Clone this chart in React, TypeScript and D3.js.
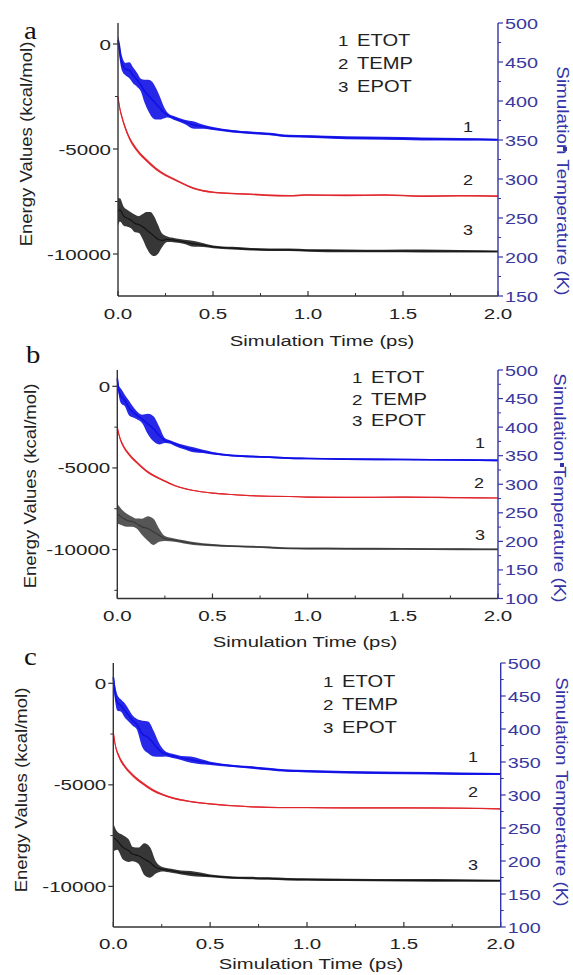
import React from "react";
import * as d3 from "d3";

const FONT = "'Liberation Sans', Arial, Helvetica, sans-serif";
const SERIF = "'Liberation Serif', 'Times New Roman', serif";

// ---------- shared tick / label data ----------
const timeTicks = [0, 0.5, 1.0, 1.5, 2.0];
const timeTickLabels = ["0.0", "0.5", "1.0", "1.5", "2.0"];
const timeMinor = [0.25, 0.75, 1.25, 1.75];
const energyTicks = [0, -5000, -10000];
const legendNums = ["1", "2", "3"];
const legendNames = ["ETOT", "TEMP", "EPOT"];
const tempTicksA = [150, 200, 250, 300, 350, 400, 450, 500];
const tempTicksBC = [100, 150, 200, 250, 300, 350, 400, 450, 500];

// ---------- panel a ----------
const tEtotA = [0, 0.01, 0.02, 0.04, 0.06, 0.08, 0.1, 0.12, 0.14, 0.16, 0.18, 0.2, 0.22, 0.24, 0.26, 0.3, 0.35, 0.4, 0.45, 0.5, 0.6, 0.7, 0.8, 0.9, 1.0, 1.2, 1.4, 1.6, 1.8, 2.0];
const etotA = [200, -400, -900, -1200, -1250, -1500, -1700, -1950, -2250, -2450, -2650, -2850, -3050, -3250, -3380, -3545, -3705, -3860, -3940, -4020, -4150, -4225, -4290, -4385, -4400, -4465, -4490, -4520, -4540, -4560];
const etotBandA = [200, 400, 350, 300, 380, 380, 330, 300, 550, 750, 850, 750, 550, 300, 120, 90, 100, 170, 90, 70, 60, 60, 60, 60, 60, 70, 70, 70, 60, 50];

const tTempA = [0, 0.01, 0.02, 0.05, 0.1, 0.15, 0.2, 0.25, 0.3, 0.4, 0.5, 0.6, 0.7, 0.8, 0.9, 1.0, 1.2, 1.4, 1.6, 1.8, 2.0];
const tempA = [405, 390, 380, 358, 337, 324, 313, 305, 299, 288, 283, 281.5, 280.5, 279, 278.5, 279.5, 279, 279.5, 278, 278.5, 278];
const tempBandA = [3, 3, 3, 2.5, 2.2, 2, 1.8, 1.5, 1.2, 1, 1, 1, 1, 1, 1, 1, 1, 1, 1, 1, 1];

const tEpotA = [0, 0.01, 0.03, 0.05, 0.07, 0.09, 0.11, 0.13, 0.15, 0.17, 0.19, 0.21, 0.23, 0.26, 0.3, 0.35, 0.4, 0.45, 0.5, 0.6, 0.7, 0.8, 0.9, 1.0, 1.2, 1.4, 1.6, 1.8, 2.0];
const epotA = [-8000, -7900, -8200, -8300, -8400, -8550, -8600, -8700, -8850, -9000, -9150, -9300, -9350, -9300, -9350, -9420, -9520, -9580, -9660, -9720, -9770, -9800, -9800, -9830, -9850, -9860, -9860, -9870, -9880];
const epotBandA = [650, 550, 450, 400, 380, 420, 400, 600, 850, 1000, 950, 700, 350, 130, 100, 100, 140, 90, 70, 60, 60, 60, 60, 60, 70, 60, 70, 60, 50];

// ---------- panel b ----------
const tEtotB = [0, 0.01, 0.02, 0.04, 0.06, 0.08, 0.1, 0.13, 0.16, 0.19, 0.22, 0.25, 0.28, 0.3, 0.35, 0.4, 0.45, 0.5, 0.6, 0.7, 0.8, 0.9, 1.0, 1.2, 1.5, 1.8, 2.0];
const etotB = [500, -350, -600, -875, -1300, -1550, -1750, -1990, -2300, -2600, -3010, -3320, -3420, -3525, -3730, -3890, -3990, -4100, -4240, -4300, -4340, -4400, -4420, -4460, -4480, -4510, -4540];
const etotBandB = [300, 350, 450, 350, 450, 350, 250, 250, 620, 770, 550, 150, 100, 120, 130, 150, 100, 80, 60, 60, 50, 50, 50, 50, 50, 50, 50];

const tTempB = [0, 0.01, 0.03, 0.06, 0.1, 0.15, 0.2, 0.25, 0.3, 0.4, 0.5, 0.6, 0.7, 0.8, 0.9, 1.0, 1.2, 1.5, 1.8, 2.0];
const tempB = [400, 385, 368, 353, 339, 324, 313.6, 305.6, 298, 289, 284.5, 282, 280, 279, 278.5, 277.5, 277, 277.5, 276.5, 276];
const tempBandB = [3, 3, 3, 2.5, 2.2, 2, 1.8, 1.5, 1.2, 1, 1, 1, 1, 1, 1, 1, 1, 1, 1, 1];

const tEpotB = [0, 0.02, 0.05, 0.08, 0.1, 0.13, 0.16, 0.19, 0.22, 0.25, 0.3, 0.35, 0.4, 0.5, 0.6, 0.7, 0.8, 0.9, 1.0, 1.2, 1.5, 1.8, 2.0];
const epotB = [-7800, -8000, -8205, -8300, -8400, -8610, -8710, -8915, -9120, -9325, -9425, -9530, -9630, -9730, -9790, -9830, -9870, -9930, -9940, -9950, -9960, -9980, -9990];
const epotBandB = [600, 500, 400, 300, 300, 500, 750, 800, 400, 150, 100, 100, 90, 70, 60, 60, 60, 60, 60, 60, 60, 60, 50];

// ---------- panel c ----------
const tEtotC = [0, 0.01, 0.02, 0.04, 0.06, 0.08, 0.1, 0.12, 0.15, 0.18, 0.21, 0.24, 0.27, 0.3, 0.35, 0.4, 0.5, 0.6, 0.7, 0.8, 0.9, 1.0, 1.2, 1.5, 1.8, 2.0];
const etotC = [300, -525, -935, -1100, -1345, -1590, -1840, -2000, -2495, -2660, -2990, -3315, -3480, -3560, -3675, -3760, -3940, -4055, -4135, -4220, -4300, -4330, -4380, -4420, -4450, -4465];
const etotBandC = [300, 400, 400, 300, 350, 300, 250, 250, 650, 780, 615, 300, 120, 100, 100, 150, 80, 60, 60, 60, 60, 60, 60, 60, 60, 50];

const tTempC = [0, 0.01, 0.03, 0.06, 0.1, 0.15, 0.2, 0.25, 0.3, 0.4, 0.5, 0.6, 0.7, 0.8, 0.9, 1.0, 1.2, 1.5, 1.8, 2.0];
const tempC = [396, 376, 358, 343, 330, 318, 308, 301, 296, 290, 286.5, 284, 282.3, 281.3, 281, 281, 280.5, 280.5, 280, 279];
const tempBandC = [3, 3, 3, 2.5, 2.2, 2, 1.8, 1.5, 1.2, 1, 1, 1, 1, 1, 1, 1, 1, 1, 1, 1];

const tEpotC = [0, 0.02, 0.05, 0.08, 0.1, 0.13, 0.16, 0.19, 0.22, 0.25, 0.3, 0.35, 0.4, 0.5, 0.6, 0.7, 0.8, 0.9, 1.0, 1.2, 1.5, 1.8, 2.0];
const epotC = [-7585, -7750, -8080, -8245, -8410, -8490, -8655, -8820, -9070, -9150, -9230, -9315, -9365, -9480, -9560, -9590, -9610, -9645, -9660, -9680, -9700, -9710, -9720];
const epotBandC = [700, 450, 600, 550, 350, 400, 780, 750, 300, 120, 100, 100, 120, 70, 60, 60, 60, 60, 60, 60, 60, 60, 50];

// ---------- styling ----------
const BLUE = "#1010e6";
const RED = "#e0262c";
const BLACK = "#141414";
const AXIS = "#333";
const RAXIS = "#3434a8";
const RTEXT = "#38389e";
const TXT = "#222";

type Series = { t: number[]; v: number[]; hw: number[] };

function Txt(props: {
  x: number; y: number; children: React.ReactNode; anchor?: string; size?: number;
  sx?: number; sy?: number; rot?: number; fill?: string; family?: string;
}) {
  const { x, y, children, anchor = "start", size = 15, sx = 1.37, sy = 1.02, rot = 0, fill = TXT, family = FONT } = props;
  return (
    <g transform={`translate(${x},${y}) rotate(${rot}) scale(${sx},${sy})`}>
      <text textAnchor={anchor as any} fontSize={size} fontFamily={family} fill={fill}>{children}</text>
    </g>
  );
}

function Band({ s, xs, ys, color, lw, opacity = 0.9 }: { s: Series; xs: any; ys: any; color: string; lw: number; opacity?: number }) {
  const idx = s.t.map((_, i) => i);
  const area = d3.area<number>()
    .x((i) => xs(s.t[i]))
    .y0((i) => ys(s.v[i] - s.hw[i]))
    .y1((i) => ys(s.v[i] + s.hw[i]))
    .curve(d3.curveMonotoneX);
  const line = d3.line<number>()
    .x((i) => xs(s.t[i]))
    .y((i) => ys(s.v[i]))
    .curve(d3.curveMonotoneX);
  return (
    <g>
      <path d={area(idx) || ""} fill={color} fillOpacity={opacity} stroke="none" />
      <path d={line(idx) || ""} fill="none" stroke={color} strokeWidth={lw} />
    </g>
  );
}

type PanelProps = {
  x0: number; x1: number; yTop: number; yBot: number;
  eDom: [number, number]; kDom: [number, number]; kTicks: number[];
  etot: Series; temp: Series; epot: Series; epotColor: string;
  letter: string; letterPos: [number, number];
  xTickBase: number; xTitle: [number, number];
  leftTitle: [number, number]; rightTitle: [number, number];
  legendX: number; legendYs: number[];
  curveLabels: [number, number][];
  mark?: [number, number];
};

function Panel(p: PanelProps) {
  const xs = d3.scaleLinear().domain([0, 2]).range([p.x0, p.x1]);
  const ye = d3.scaleLinear().domain(p.eDom).range([p.yBot, p.yTop]);
  const yk = d3.scaleLinear().domain(p.kDom).range([p.yBot, p.yTop]);
  const eMinor = d3.range(Math.ceil(p.eDom[0] / 2500), Math.floor(p.eDom[1] / 2500) + 1)
    .map((k) => k * 2500).filter((v) => v % 5000 !== 0);
  const kMinor = p.kTicks.slice(0, -1).map((v) => v + 25);

  return (
    <g>
      {/* curves */}
      <Band s={p.etot} xs={xs} ys={ye} color={BLUE} lw={1.6} />
      <Band s={p.temp} xs={xs} ys={yk} color={RED} lw={1.1} />
      <Band s={p.epot} xs={xs} ys={ye} color={p.epotColor} lw={1.2} opacity={0.85} />

      {/* left axis */}
      <line x1={p.x0} x2={p.x0} y1={p.yTop} y2={p.yBot} stroke={AXIS} strokeWidth={1.4} />
      {energyTicks.map((v) => (
        <g key={"e" + v}>
          <line x1={p.x0 - 5} x2={p.x0} y1={ye(v)} y2={ye(v)} stroke={AXIS} strokeWidth={1.2} />
          <Txt x={p.x0 - 7} y={ye(v) + 5.5} anchor="end">{v === 0 ? "0" : String(v)}</Txt>
        </g>
      ))}
      {eMinor.map((v) => (
        <line key={"em" + v} x1={p.x0 - 3} x2={p.x0} y1={ye(v)} y2={ye(v)} stroke={AXIS} strokeWidth={1} />
      ))}

      {/* bottom axis */}
      <line x1={p.x0} x2={p.x1} y1={p.yBot} y2={p.yBot} stroke={AXIS} strokeWidth={1.4} />
      {timeTicks.map((t, i) => (
        <g key={"t" + t}>
          <line x1={xs(t)} x2={xs(t)} y1={p.yBot} y2={p.yBot - 5} stroke={AXIS} strokeWidth={1.2} />
          <Txt x={xs(t)} y={p.xTickBase} anchor="middle">{timeTickLabels[i]}</Txt>
        </g>
      ))}
      {timeMinor.map((t) => (
        <line key={"tm" + t} x1={xs(t)} x2={xs(t)} y1={p.yBot} y2={p.yBot - 3} stroke={AXIS} strokeWidth={1} />
      ))}

      {/* right axis */}
      <line x1={p.x1} x2={p.x1} y1={yk(p.kDom[1])} y2={yk(p.kDom[0])} stroke={RAXIS} strokeWidth={1.4} />
      {p.kTicks.map((v) => (
        <g key={"k" + v}>
          <line x1={p.x1} x2={p.x1 + 5} y1={yk(v)} y2={yk(v)} stroke={RAXIS} strokeWidth={1.2} />
          <Txt x={p.x1 + 7} y={yk(v) + 5.5} fill={RTEXT} sx={1.32}>{String(v)}</Txt>
        </g>
      ))}
      {kMinor.map((v) => (
        <line key={"km" + v} x1={p.x1} x2={p.x1 + 3} y1={yk(v)} y2={yk(v)} stroke={RAXIS} strokeWidth={1} />
      ))}

      {/* titles */}
      <Txt x={p.xTitle[0]} y={p.xTitle[1]} anchor="middle" sx={1.35}>Simulation Time (ps)</Txt>
      <Txt x={p.leftTitle[0]} y={p.leftTitle[1]} anchor="middle" rot={-90} size={16} sx={1.16} sy={1.05}>Energy Values (kcal/mol)</Txt>
      <Txt x={p.rightTitle[0]} y={p.rightTitle[1]} anchor="middle" rot={90} size={16} sx={1.18} sy={1.05} fill={RAXIS}>Simulation Temperature (K)</Txt>
      {p.mark && <rect x={p.mark[0]} y={p.mark[1]} width={4} height={4} fill={RAXIS} />}

      {/* panel letter */}
      <Txt x={p.letterPos[0]} y={p.letterPos[1]} size={25} sx={1.15} sy={1} family={SERIF} fill="#111">{p.letter}</Txt>

      {/* legend */}
      {legendNums.map((n, i) => (
        <g key={"lg" + n}>
          <Txt x={p.legendX} y={p.legendYs[i]} sx={1.25}>{n}</Txt>
          <Txt x={p.legendX + 19} y={p.legendYs[i]} sx={1.3} size={15.5}>{legendNames[i]}</Txt>
        </g>
      ))}

      {/* curve numbers */}
      {p.curveLabels.map((c, i) => (
        <Txt key={"cl" + i} x={c[0]} y={c[1]} anchor="middle" sx={1.2}>{legendNums[i]}</Txt>
      ))}
    </g>
  );
}

export default function App() {
  return (
    <svg width={573} height={975} style={{ position: "absolute", left: 0, top: 0, background: "#fff" }}>
      <rect x={0} y={0} width={573} height={975} fill="#fff" />
      <Panel
        x0={118} x1={498} yTop={23} yBot={296}
        eDom={[-12000, 1000]} kDom={[150, 500]} kTicks={tempTicksA}
        etot={{ t: tEtotA, v: etotA, hw: etotBandA }}
        temp={{ t: tTempA, v: tempA, hw: tempBandA }}
        epot={{ t: tEpotA, v: epotA, hw: epotBandA }}
        epotColor={BLACK}
        letter="a" letterPos={[24, 39]}
        xTickBase={318.5} xTitle={[322, 346]}
        leftTitle={[32, 144]} rightTitle={[557, 181]}
        legendX={338} legendYs={[45.5, 68.5, 92]}
        curveLabels={[[468, 132], [468, 185], [468, 235]]}
        mark={[563, 147]}
      />
      <Panel
        x0={117.3} x1={498} yTop={370} yBot={598.5}
        eDom={[-13000, 1000]} kDom={[100, 500]} kTicks={tempTicksBC}
        etot={{ t: tEtotB, v: etotB, hw: etotBandB }}
        temp={{ t: tTempB, v: tempB, hw: tempBandB }}
        epot={{ t: tEpotB, v: epotB, hw: epotBandB }}
        epotColor="#383838"
        letter="b" letterPos={[26, 363]}
        xTickBase={620.5} xTitle={[305, 647]}
        leftTitle={[36, 486]} rightTitle={[554, 488]}
        legendX={352} legendYs={[383, 405, 426]}
        curveLabels={[[480, 448], [479, 488], [480, 540]]}
        mark={[560, 463]}
      />
      <Panel
        x0={113.3} x1={500.7} yTop={663} yBot={927}
        eDom={[-12000, 1000]} kDom={[100, 500]} kTicks={tempTicksBC}
        etot={{ t: tEtotC, v: etotC, hw: etotBandC }}
        temp={{ t: tTempC, v: tempC, hw: tempBandC }}
        epot={{ t: tEpotC, v: epotC, hw: epotBandC }}
        epotColor={BLACK}
        letter="c" letterPos={[24, 665]}
        xTickBase={948.5} xTitle={[311, 969]}
        leftTitle={[27, 790]} rightTitle={[556, 792]}
        legendX={323} legendYs={[687, 710, 733]}
        curveLabels={[[473, 762], [473, 797], [473, 870]]}
      />
    </svg>
  );
}
